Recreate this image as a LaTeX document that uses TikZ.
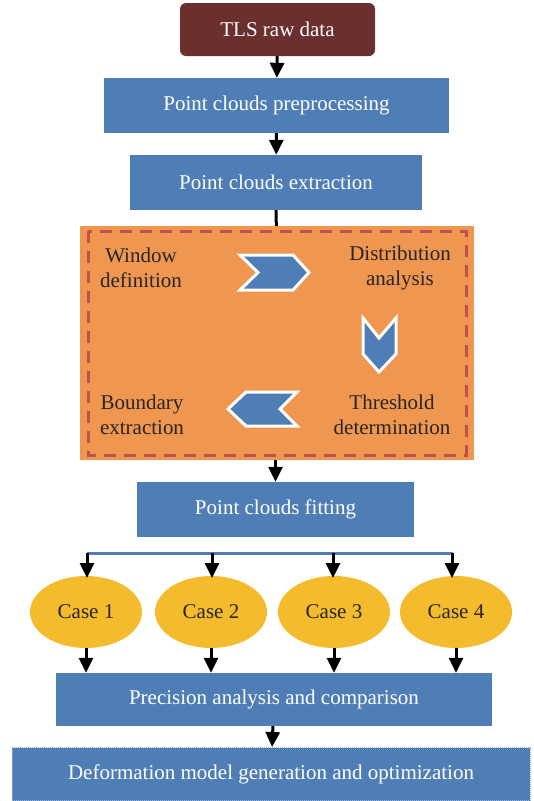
\documentclass[tikz,border=0pt]{standalone}
\usepackage{fontspec}
\setmainfont{Liberation Serif}
\usetikzlibrary{arrows.meta, shapes.geometric}

\definecolor{rawred}{HTML}{6B2F2E}
\definecolor{boxblue}{HTML}{4F7EB7}
\definecolor{boxorange}{HTML}{EF9650}
\definecolor{dashred}{HTML}{C0504D}
\definecolor{caseyellow}{HTML}{F4BC2C}
\definecolor{txtdark}{HTML}{262626}

\begin{document}
\begin{tikzpicture}[x=1pt, y=-1pt,
		font=\fontsize{21}{25}\selectfont,
		bluebox/.style={fill=boxblue, text=white, inner sep=0pt},
		stagetxt/.style={text=txtdark, align=center, inner sep=0pt},
		casenode/.style={ellipse, fill=caseyellow, text=txtdark, minimum width=112pt, minimum height=72pt, inner sep=0pt},
		flow/.style={black, line width=3pt, -{Triangle[width=14pt,length=15pt]}},
		chevron/.style={fill=boxblue, draw=white, line width=3pt, line join=miter}]
	\useasboundingbox (0,0) rectangle (534,801);

	% main chain
	\node[fill=rawred, text=white, rounded corners=6pt, minimum width=195pt, minimum height=53pt] (raw) at (277.5,29.5) {TLS raw data};
	\node[bluebox, minimum width=345pt, minimum height=55pt] (prep) at (276.5,105.5) {Point clouds preprocessing};
	\node[bluebox, minimum width=292pt, minimum height=55pt] (extr) at (276,182.5) {Point clouds extraction};

	% boundary extraction block
	\node[fill=boxorange, minimum width=394pt, minimum height=234pt, inner sep=0pt] (blk) at (277,343) {};
	\draw[dashred, line width=3pt, dash pattern=on 12pt off 8pt] (88,231) rectangle (466,455);
	\node[stagetxt] (win) at (141,268) {Window\\definition};
	\node[stagetxt] (dist) at (400,268) {Distribution\\analysis};
	\node[stagetxt] (thr) at (392,415) {Threshold\\determination};
	\node[stagetxt] (bnd) at (142,415) {Boundary\\extraction};
	\draw[chevron] (240,255) -- (293,255) -- (309,272.5) -- (293,290) -- (240,290) -- (258,272.5) -- cycle;
	\draw[chevron] (363,318) -- (379,338) -- (396,318) -- (396,354) -- (379,372) -- (363,354) -- cycle;
	\draw[chevron] (297,392) -- (280,409) -- (297,426) -- (246,426) -- (228,409) -- (246,392) -- cycle;

	\node[bluebox, minimum width=277pt, minimum height=55pt] (fit) at (275.5,509.5) {Point clouds fitting};

	% cases
	\node[casenode] (c1) at (86,612) {Case 1};
	\node[casenode] (c2) at (211,612) {Case 2};
	\node[casenode] (c3) at (334,612) {Case 3};
	\node[casenode] (c4) at (456,612) {Case 4};

	\node[bluebox, minimum width=436pt, minimum height=53pt] (prec) at (274,699.5) {Precision analysis and comparison};
	\node[bluebox, draw=boxblue!60!white, densely dotted, line width=1pt, minimum width=518pt, minimum height=53pt] (deform) at (271,774) {Deformation model generation and optimization};

	\coordinate (busl) at (87,553);
	\coordinate (busr) at (453,553);

	% connectors
	\draw[flow] (raw) -- (prep);
	\draw[flow] (prep) -- (extr);
	\draw[black, line width=3pt] (extr) -- (blk);
	\draw[flow] (blk.south -| fit) -- (fit);
	\draw[boxblue, line width=3pt] (busl) -- (busr);
	\foreach \c/\x in {c1/87, c2/212, c3/333, c4/452} {
		\draw[flow] (\x,553) -- (\x,578);
		\draw[flow] (\c.south) -- (\c.south |- prec.north);
	}
	\draw[flow] (prec) -- (deform);
\end{tikzpicture}
\end{document}
